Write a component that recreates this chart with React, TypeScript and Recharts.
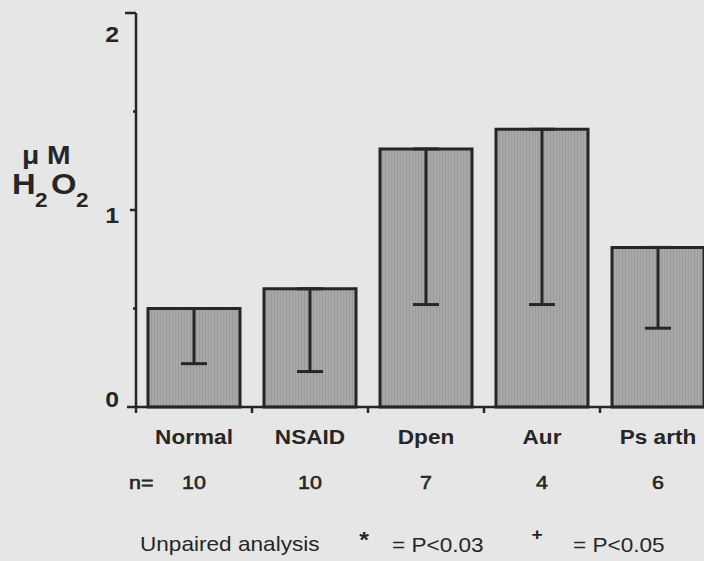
import React from 'react';
import { BarChart, Bar, XAxis, YAxis, ErrorBar, Label } from 'recharts';

// Hydrogen peroxide release by patient group (mean, with lower error limit)
const categories = ['Normal', 'NSAID', 'Dpen', 'Aur', 'Ps arth'];
const meanValues = [0.5, 0.6, 1.31, 1.41, 0.81];
const lowerValues = [0.22, 0.18, 0.52, 0.52, 0.4];
const sampleSizes = ['10', '10', '7', '4', '6'];
const yTicks = [0, 0.5, 1, 1.5, 2];

const data = categories.map((name, i) => ({
  name,
  value: meanValues[i],
  // only the downward half of the error bar is drawn
  err: [meanValues[i] - lowerValues[i], 0],
}));

const INK = '#262626';
const FONT = "'Liberation Sans', Arial, Helvetica, sans-serif";
const STRETCH = 1.13;

type TProps = {
  x: number;
  y: number;
  size: number;
  anchor?: 'start' | 'middle' | 'end';
  bold?: boolean;
  heavy?: boolean;
  children: React.ReactNode;
};

// Text drawn slightly wider than the font's natural proportions
const T = ({ x, y, size, anchor = 'start', bold, heavy, children }: TProps) => (
  <text
    transform={`translate(${x},${y}) scale(${STRETCH},1)`}
    textAnchor={anchor}
    fontSize={size}
    fontWeight={bold ? 'bold' : 'normal'}
    fontFamily={FONT}
    fill={INK}
    stroke={heavy ? INK : 'none'}
    strokeWidth={heavy ? 0.6 : 0}
  >
    {children}
  </text>
);

const CategoryTick = (props: any) => {
  const { x, y, payload, index, width, visibleTicksCount } = props;
  const half = width && visibleTicksCount ? width / visibleTicksCount / 2 : 58;
  const edge = x - half;
  return (
    <g>
      <line x1={edge} y1={y} x2={edge} y2={y + 6} stroke={INK} strokeWidth={2.5} />
      <T x={x} y={y + 37} size={20} anchor="middle" bold>
        {payload.value}
      </T>
      {index === 0 && (
        <T x={x - 65} y={y + 82} size={19} heavy>
          n=
        </T>
      )}
      <T x={x} y={y + 82} size={19} anchor="middle" heavy>
        {sampleSizes[index]}
      </T>
    </g>
  );
};

const labelShift: Record<number, number> = { 0: 0, 1: 13, 2: 29 };

const ValueTick = (props: any) => {
  const { x, y, payload } = props;
  const v = payload.value as number;
  const major = Number.isInteger(v);
  const len = v === 2 ? 11 : v === 0 ? 9 : major ? 6 : 3;
  return (
    <g>
      <line x1={x - len} y1={y} x2={x} y2={y} stroke={INK} strokeWidth={2.5} />
      {major && (
        <T x={x - 17} y={y + labelShift[v]} size={22} anchor="end" bold>
          {String(v)}
        </T>
      )}
    </g>
  );
};

const UnitLabel = (props: any) => {
  const vb = props.viewBox || { x: 76, y: 13 };
  const ox = vb.x - 76;
  const oy = vb.y - 13;
  return (
    <g>
      <T x={ox + 22} y={oy + 164} size={25} bold>
        μ M
      </T>
      <T x={ox + 12} y={oy + 194} size={29} bold>
        H
      </T>
      <T x={ox + 35} y={oy + 207} size={20} bold>
        2
      </T>
      <T x={ox + 51} y={oy + 194} size={29} bold>
        O
      </T>
      <T x={ox + 76} y={oy + 207} size={20} bold>
        2
      </T>
    </g>
  );
};

const FootNote = (props: any) => {
  const vb = props.viewBox || { x: 136, y: 407 };
  const ox = vb.x;
  const oy = vb.y;
  return (
    <g>
      <T x={ox + 4} y={oy + 144} size={20}>
        Unpaired analysis
      </T>
      <T x={ox + 228} y={oy + 140} size={22} anchor="middle" bold>
        *
      </T>
      <T x={ox + 256} y={oy + 145} size={20}>
        {'= P<0.03'}
      </T>
      <T x={ox + 401} y={oy + 133} size={17} anchor="middle" bold>
        +
      </T>
      <T x={ox + 437} y={oy + 145} size={20}>
        {'= P<0.05'}
      </T>
    </g>
  );
};

export default function App() {
  return (
    <div
      style={{
        position: 'absolute',
        left: 0,
        top: 0,
        width: 704,
        height: 561,
        overflow: 'hidden',
        background: '#e6e6e6',
      }}
    >
      <BarChart
        width={720}
        height={561}
        data={data}
        margin={{ top: 13, right: 4, bottom: 0, left: 76 }}
        barCategoryGap={12}
      >
        <defs>
          <pattern id="barTexture" width={3} height={8} patternUnits="userSpaceOnUse">
            <rect width={3} height={8} fill="#a8a8a8" />
            <rect x={1} width={1} height={8} fill="#9b9b9b" />
          </pattern>
        </defs>
        <XAxis
          dataKey="name"
          height={154}
          interval={0}
          tickLine={false}
          tickSize={0}
          tickMargin={0}
          axisLine={{ stroke: INK, strokeWidth: 2.5 }}
          tick={<CategoryTick />}
        >
          <Label content={<FootNote />} />
        </XAxis>
        <YAxis
          type="number"
          domain={[0, 2]}
          ticks={yTicks}
          interval={0}
          width={60}
          tickLine={false}
          tickSize={0}
          tickMargin={0}
          axisLine={{ stroke: INK, strokeWidth: 2.5 }}
          tick={<ValueTick />}
        >
          <Label content={<UnitLabel />} />
        </YAxis>
        <Bar
          dataKey="value"
          fill="url(#barTexture)"
          stroke={INK}
          strokeWidth={3}
          isAnimationActive={false}
        >
          <ErrorBar dataKey="err" width={13} stroke={INK} strokeWidth={3} isAnimationActive={false} />
        </Bar>
      </BarChart>
    </div>
  );
}
